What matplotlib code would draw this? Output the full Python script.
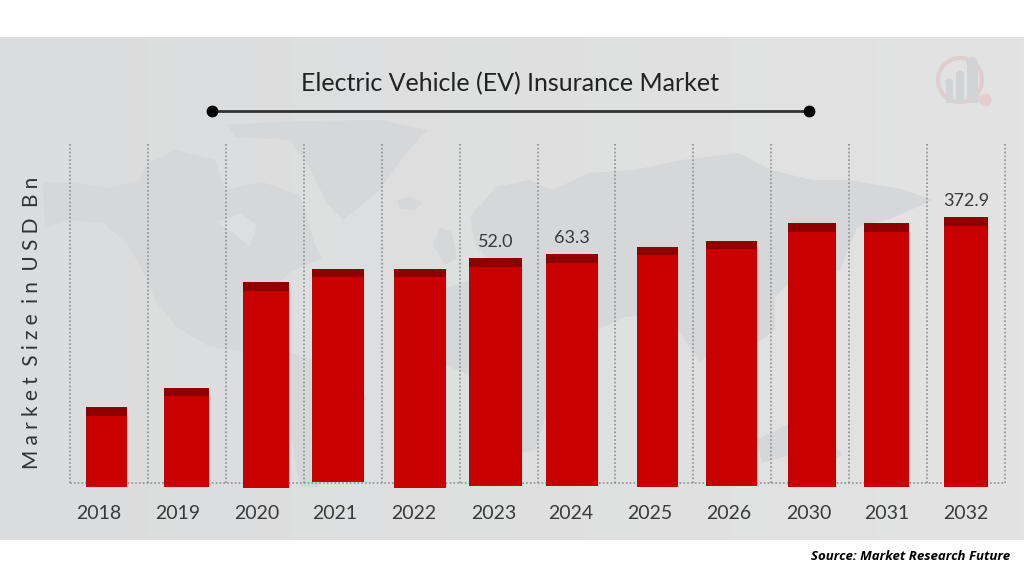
import numpy as np
import matplotlib
matplotlib.use("Agg")
import matplotlib.pyplot as plt
from matplotlib.patches import Polygon, Circle, Rectangle

plt.rcParams['font.family'] = ['Lato', 'DejaVu Sans']

years = ['2018', '2019', '2020', '2021', '2022', '2023', '2024', '2025', '2026', '2030', '2031', '2032']
# bar heights, in pixels above the dotted baseline
heights = [75.7, 95.3, 201, 214.3, 214.3, 224.7, 229, 236.3, 242.3, 259.7, 259.7, 266]
labels = {5: '52.0', 6: '63.3', 11: '372.9'}

# the bars are hand placed in the original, not evenly spaced
bar_left = [85.7, 164.3, 243.3, 312, 394, 469.3, 546, 636.6, 706, 787.9, 863.8, 943.5]
bar_right = [127, 209, 288.7, 364, 446, 522, 597.5, 678.4, 756.6, 835.5, 909.3, 988.2]
bar_under = [4, 3.5, 5, -1, 5, 2.5, 2.5, 3.7, 3, 4.3, 4.3, 4]
tick_pos = [99, 178, 257, 335, 414, 494, 571, 650, 729, 809, 887, 966]

W, H = 1024, 576
fig = plt.figure(figsize=(W / 100, H / 100), dpi=100, facecolor='white')


def axes_px(x0, y0, x1, y1, **kw):
    return fig.add_axes([x0 / W, 1 - y1 / H, (x1 - x0) / W, (y1 - y0) / H], **kw)


# grey backdrop
bg = fig.add_axes([0, 0, 1, 1], zorder=0)
bg.axis('off')
grad = np.linspace(0, 1, 256).reshape(1, -1)
bg.imshow(grad, extent=(0, W, 540, 37), aspect='auto', cmap=matplotlib.colors.LinearSegmentedColormap.from_list('g', ['#DBDCDD', '#E3E3E3']))
bg.set_xlim(0, W)
bg.set_ylim(H, 0)

# faint world map
land = [
    [(43, 182), (75, 183), (110, 188), (140, 180), (145, 165), (175, 150), (215, 160), (225, 190), (262, 182), (300, 195), (315, 245), (322, 258),
     (290, 272), (262, 300), (245, 325), (262, 345), (245, 352), (210, 347), (177, 327), (157, 303), (142, 270), (127, 243), (103, 223), (70, 220), (45, 228)],
    [(287, 352), (330, 365), (367, 397), (345, 440), (318, 487), (300, 487), (288, 420), (270, 375)],
    [(227, 125), (300, 121), (380, 120), (427, 130), (403, 157), (380, 190), (343, 220), (327, 203), (307, 163), (290, 140), (235, 137)],
    [(397, 200), (410, 197), (422, 202), (415, 210), (400, 209)],
    [(433, 245), (440, 228), (452, 232), (457, 258), (445, 265)],
    [(470, 217), (496, 187), (529, 180), (552, 190), (589, 173), (634, 170), (682, 160), (738, 153), (771, 170), (812, 180), (850, 180), (905, 190), (933, 200),
     (887, 220), (857, 227), (840, 270), (800, 270), (775, 297), (775, 330), (757, 343), (735, 330), (700, 363), (678, 330), (650, 315), (626, 317), (596, 330),
     (580, 370), (552, 397), (535, 450), (510, 455), (488, 430), (482, 380), (440, 363), (420, 330), (440, 290), (500, 270), (475, 245)],
    [(757, 440), (790, 423), (825, 430), (842, 455), (825, 465), (790, 455), (762, 463)],
]
for p in land:
    bg.add_patch(Polygon(p, closed=True, fc='#D6D7D8', ec='none', zorder=1))

# hudson bay
bg.add_patch(Polygon([(217, 222), (240, 213), (257, 225), (250, 247), (232, 232)], closed=True, fc='#DDDEDF', ec='none', zorder=1.5))

# logo
bg.add_patch(Circle((960, 80), 22, fc='none', ec='#E0CDCF', lw=3, zorder=2))
bg.plot([976, 984], [96, 100], color='#E6CDD0', lw=3, zorder=2)
bg.add_patch(Circle((985, 100), 6.5, fc='#E6CDD0', ec='none', zorder=2))
for x, top, r in zip([949, 960, 972], [82, 75, 63], [3.5, 4, 5.5]):
    bg.add_patch(Rectangle((x - r, top), 2 * r, 103 - top, fc='#D2D3D5', ec='none', zorder=3))
    bg.add_patch(Circle((x, top), r + 0.3, fc='#D2D3D5', ec='none', zorder=3))

# title and its rule
bg.text(510, 83.5, 'Electric Vehicle (EV) Insurance Market', ha='center', va='center', fontsize=18, color='#222222', zorder=5)
bg.plot([212, 809], [111, 111], color='#333333', lw=2, zorder=5)
bg.plot([212, 809], [111, 111], 'o', color='black', ms=7.5, zorder=6)

# bars
ax = axes_px(70, 144, 1005, 483, zorder=2)
ax.patch.set_alpha(0)
ax.set_xlim(70, 1005)
ax.set_ylim(0, 339)
for s in ax.spines.values():
    s.set_visible(False)

for x in np.linspace(70, 1005, 13):
    ax.plot([x, x], [0, 339], color='#8F8F8F', lw=1.2, ls=(0, (1, 1.3)), clip_on=False, zorder=1)
ax.plot([70, 1005], [0, 0], color='#8F8F8F', lw=1.2, ls=(0, (1, 1.3)), clip_on=False, zorder=1)

left = np.array(bar_left)
right = np.array(bar_right)
h = np.array(heights)
under = np.array(bar_under)
ax.bar(left, h + under, width=right - left, bottom=-under, align='edge', color='#C80000', zorder=2, clip_on=False)
ax.bar(left, 8.5, width=right - left, bottom=h - 8.5, align='edge', color='#8E0000', zorder=3, clip_on=False)

for i, txt in labels.items():
    ax.text((left[i] + right[i]) / 2, h[i] + 8, txt, ha='center', va='bottom', fontsize=13, color='#3A3A3A')

ax.set_yticks([])
ax.set_xticks(tick_pos)
ax.set_xticklabels(years, fontsize=14, color='#3A3A3A')
ax.tick_params(axis='x', length=0, pad=16)

ylab = '\u2005'.join('Market Size in USD Bn').replace('\u2005 \u2005', '\u2002')
fig.text(32 / W, 1 - 323 / H, ylab, rotation=90, ha='center', va='center', fontsize=15, color='#333333')

fig.text(1010 / W, 1 - 557 / H, 'Source: Market Research Future', ha='right', va='center', fontsize=9.5,
         family='Open Sans', fontweight='bold', fontstyle='italic', color='black')

fig.savefig('out.png', dpi=100)
